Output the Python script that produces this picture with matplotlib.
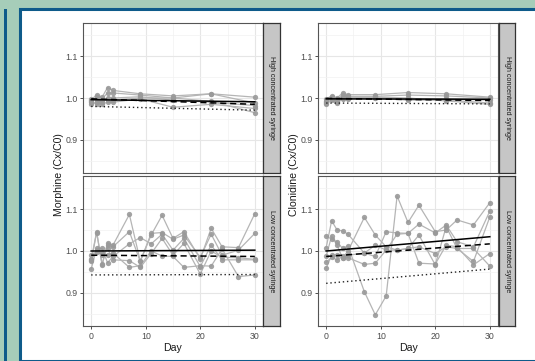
import matplotlib
matplotlib.use("Agg")
import matplotlib.pyplot as plt
from matplotlib.patches import Rectangle
from matplotlib.ticker import MultipleLocator

plt.rcParams['font.family'] = ['Liberation Sans', 'DejaVu Sans']

# ---------------- data ----------------
days_high = [0, 1, 2, 3, 4, 9, 15, 22, 30]
days_low = [0, 1, 2, 3, 4, 7, 9, 11, 13, 15, 17, 20, 22, 24, 27, 30]

morphine_high = [
    [0.995, 1.008, 1.002, 1.025, 1.018, 1.010, 1.005, 1.010, 1.002],
    [0.990, 1.003, 0.998, 1.012, 1.012, 1.007, 1.000, 1.010, 0.988],
    [0.998, 0.995, 0.990, 1.000, 1.000, 1.003, 0.995, 0.990, 0.982],
    [0.985, 0.990, 0.985, 0.990, 0.990, 0.998, 0.978, 0.985, 0.975],
    [0.992, 0.985, 0.995, 0.995, 0.995, 1.000, 1.000, 0.992, 0.965],
]
morphine_low = [
    [0.979, 1.046, 0.967, 1.020, 1.014, 1.087, 0.976, 1.038, 1.085, 1.030, 1.046, 0.981, 1.054, 1.010, 1.008, 1.089],
    [0.975, 1.044, 0.968, 1.014, 1.010, 1.046, 0.975, 1.042, 1.044, 1.028, 1.038, 0.985, 1.040, 0.990, 1.002, 1.042],
    [0.957, 1.006, 1.006, 0.972, 0.987, 1.017, 1.032, 1.017, 1.040, 1.002, 1.030, 0.963, 1.014, 0.979, 0.979, 0.979],
    [0.982, 1.002, 0.990, 1.006, 0.979, 0.977, 0.961, 0.994, 1.030, 0.990, 1.018, 0.945, 1.000, 0.985, 0.984, 0.980],
    [0.990, 0.998, 0.995, 0.990, 0.995, 0.961, 0.965, 1.000, 0.988, 0.987, 0.961, 0.965, 0.964, 1.005, 0.939, 0.943],
]
clonidine_high = [
    [0.998, 1.005, 1.000, 1.012, 1.008, 1.008, 1.013, 1.010, 1.002],
    [0.993, 1.002, 0.995, 1.008, 1.004, 1.004, 1.007, 1.005, 1.000],
    [0.988, 0.998, 0.990, 1.000, 0.998, 1.000, 0.998, 0.998, 0.995],
    [0.985, 0.995, 0.988, 0.998, 1.000, 1.000, 0.995, 0.995, 0.988],
    [0.990, 1.000, 0.993, 1.003, 1.000, 1.002, 1.000, 0.993, 0.985],
]
clonidine_low = [
    [1.036, 1.028, 1.022, 1.006, 1.012, 0.903, 0.848, 0.893, 1.131, 1.068, 1.109, 1.046, 1.050, 1.074, 1.062, 1.115],
    [1.008, 1.072, 1.050, 1.048, 1.040, 0.995, 0.987, 1.046, 1.043, 1.042, 1.064, 1.043, 1.062, 1.022, 1.010, 1.095],
    [0.987, 1.036, 1.014, 0.983, 1.000, 1.080, 1.038, 1.010, 1.002, 1.006, 1.038, 0.967, 1.058, 1.006, 0.975, 1.081],
    [0.973, 0.985, 0.979, 0.987, 0.984, 0.968, 0.971, 1.002, 1.040, 1.042, 0.971, 0.969, 1.014, 1.010, 0.967, 0.994],
    [0.959, 0.990, 0.990, 0.983, 0.990, 0.995, 1.014, 1.002, 1.002, 1.006, 1.010, 0.994, 1.010, 1.006, 1.006, 0.964],
]

# fitted lines: value at day 0 and day 30 (solid, dashed, dotted)
fit_days = [0, 30]
morphine_high_fit = {'solid': [0.996, 0.991], 'dashed': [0.998, 0.985], 'dotted': [0.980, 0.971]}
morphine_low_fit = {'solid': [1.000, 1.002], 'dashed': [0.990, 0.987], 'dotted': [0.943, 0.944]}
clonidine_high_fit = {'solid': [0.998, 0.997], 'dashed': [0.999, 0.994], 'dotted': [0.988, 0.986]}
clonidine_low_fit = {'solid': [1.000, 1.034], 'dashed': [0.987, 1.017], 'dotted': [0.923, 0.957]}

drugs = ['Morphine', 'Clonidine']
strip_labels = ['High concentrated syringe', 'Low concentrated syringe']
x_ticks = [0, 10, 20, 30]
y_ticks = [0.9, 1.0, 1.1]

# ---------------- figure ----------------
W, H = 535, 361
fig = plt.figure(figsize=(W / 100, H / 100), dpi=100)
fig.patch.set_facecolor('#a6cdb9')

def px_rect(x0, y0, x1, y1):
    return [x0 / W, 1 - y1 / H, (x1 - x0) / W, (y1 - y0) / H]

blue = '#0e5b8a'
fig.patches.append(Rectangle((20 / W, 0), 1, 1 - 9 / H, transform=fig.transFigure,
                             facecolor='white', edgecolor=blue, linewidth=2.2, zorder=-5))
fig.patches.append(Rectangle((4 / W, -0.01), 2.5 / W, 1 - 9 / H + 0.01, transform=fig.transFigure,
                             facecolor=blue, edgecolor='none', zorder=-5))

panel_cols = [(83, 263), (318, 498)]
strip_cols = [(263, 280), (499, 515)]
panel_rows = [(23, 173), (176, 326)]

data = {
    ('Morphine', 0): (days_high, morphine_high, morphine_high_fit),
    ('Morphine', 1): (days_low, morphine_low, morphine_low_fit),
    ('Clonidine', 0): (days_high, clonidine_high, clonidine_high_fit),
    ('Clonidine', 1): (days_low, clonidine_low, clonidine_low_fit),
}

tick_col = '#4d4d4d'
for c, drug in enumerate(drugs):
    x0, x1 = panel_cols[c]
    for r in range(2):
        y0, y1 = panel_rows[r]
        ax = fig.add_axes(px_rect(x0, y0, x1, y1))
        ax.set_facecolor('white')
        days, series, fit = data[(drug, r)]
        for s in series:
            ax.plot(days, s, color='#b5b5b5', lw=0.9, zorder=2)
            ax.plot(days, s, 'o', color='#999999', ms=3.8, mec='none', alpha=0.9, zorder=3)
        ax.plot(fit_days, fit['solid'], color='black', lw=1.1, ls='-', zorder=4)
        ax.plot(fit_days, fit['dashed'], color='black', lw=1.1, ls=(0, (4, 2.5)), zorder=4)
        ax.plot(fit_days, fit['dotted'], color='#222222', lw=1.0, ls=(0, (1, 2)), zorder=4)
        ax.set_xlim(-1.5, 31.5)
        ax.set_ylim(1 - 0.1786, 1 + 0.1786)
        ax.set_xticks(x_ticks)
        ax.set_yticks(y_ticks)
        ax.xaxis.set_minor_locator(MultipleLocator(5))
        ax.yaxis.set_minor_locator(MultipleLocator(0.05))
        ax.grid(True, which='major', color='#e6e6e6', lw=0.8, zorder=0)
        ax.grid(True, which='minor', color='#f2f2f2', lw=0.5, zorder=0)
        ax.set_axisbelow(True)
        ax.tick_params(which='minor', length=0)
        ax.tick_params(which='major', length=2.5, width=0.6, color='#333333',
                       labelsize=6.3, labelcolor=tick_col, pad=1.5)
        ax.set_yticklabels(['0.9', '1.0', '1.1'])
        if r == 0:
            ax.tick_params(axis='x', labelbottom=False, length=0)
        else:
            ax.set_xticklabels([str(v) for v in x_ticks])
            ax.set_xlabel('Day', fontsize=7.6, color='#1a1a1a', labelpad=2)
        for sp in ax.spines.values():
            sp.set_color('#555555')
            sp.set_linewidth(0.8)
        # strip
        sx0, sx1 = strip_cols[c]
        sax = fig.add_axes(px_rect(sx0, y0, sx1, y1))
        sax.set_facecolor('#c6c6c6')
        sax.set_xticks([])
        sax.set_yticks([])
        for sp in sax.spines.values():
            sp.set_color('#333333')
            sp.set_linewidth(0.9)
        sax.text(0.5, 0.5, strip_labels[r], rotation=-90, ha='center', va='center',
                 fontsize=5.2, color='#1a1a1a', transform=sax.transAxes)

# y axis titles
fig.text(59 / W, 1 - 175 / H, 'Morphine (Cx/C0)', rotation=90, ha='center', va='center',
         fontsize=7.6, color='#1a1a1a')
fig.text(294 / W, 1 - 175 / H, 'Clonidine (Cx/C0)', rotation=90, ha='center', va='center',
         fontsize=7.6, color='#1a1a1a')

fig.savefig('out.png', dpi=100, facecolor=fig.get_facecolor())
